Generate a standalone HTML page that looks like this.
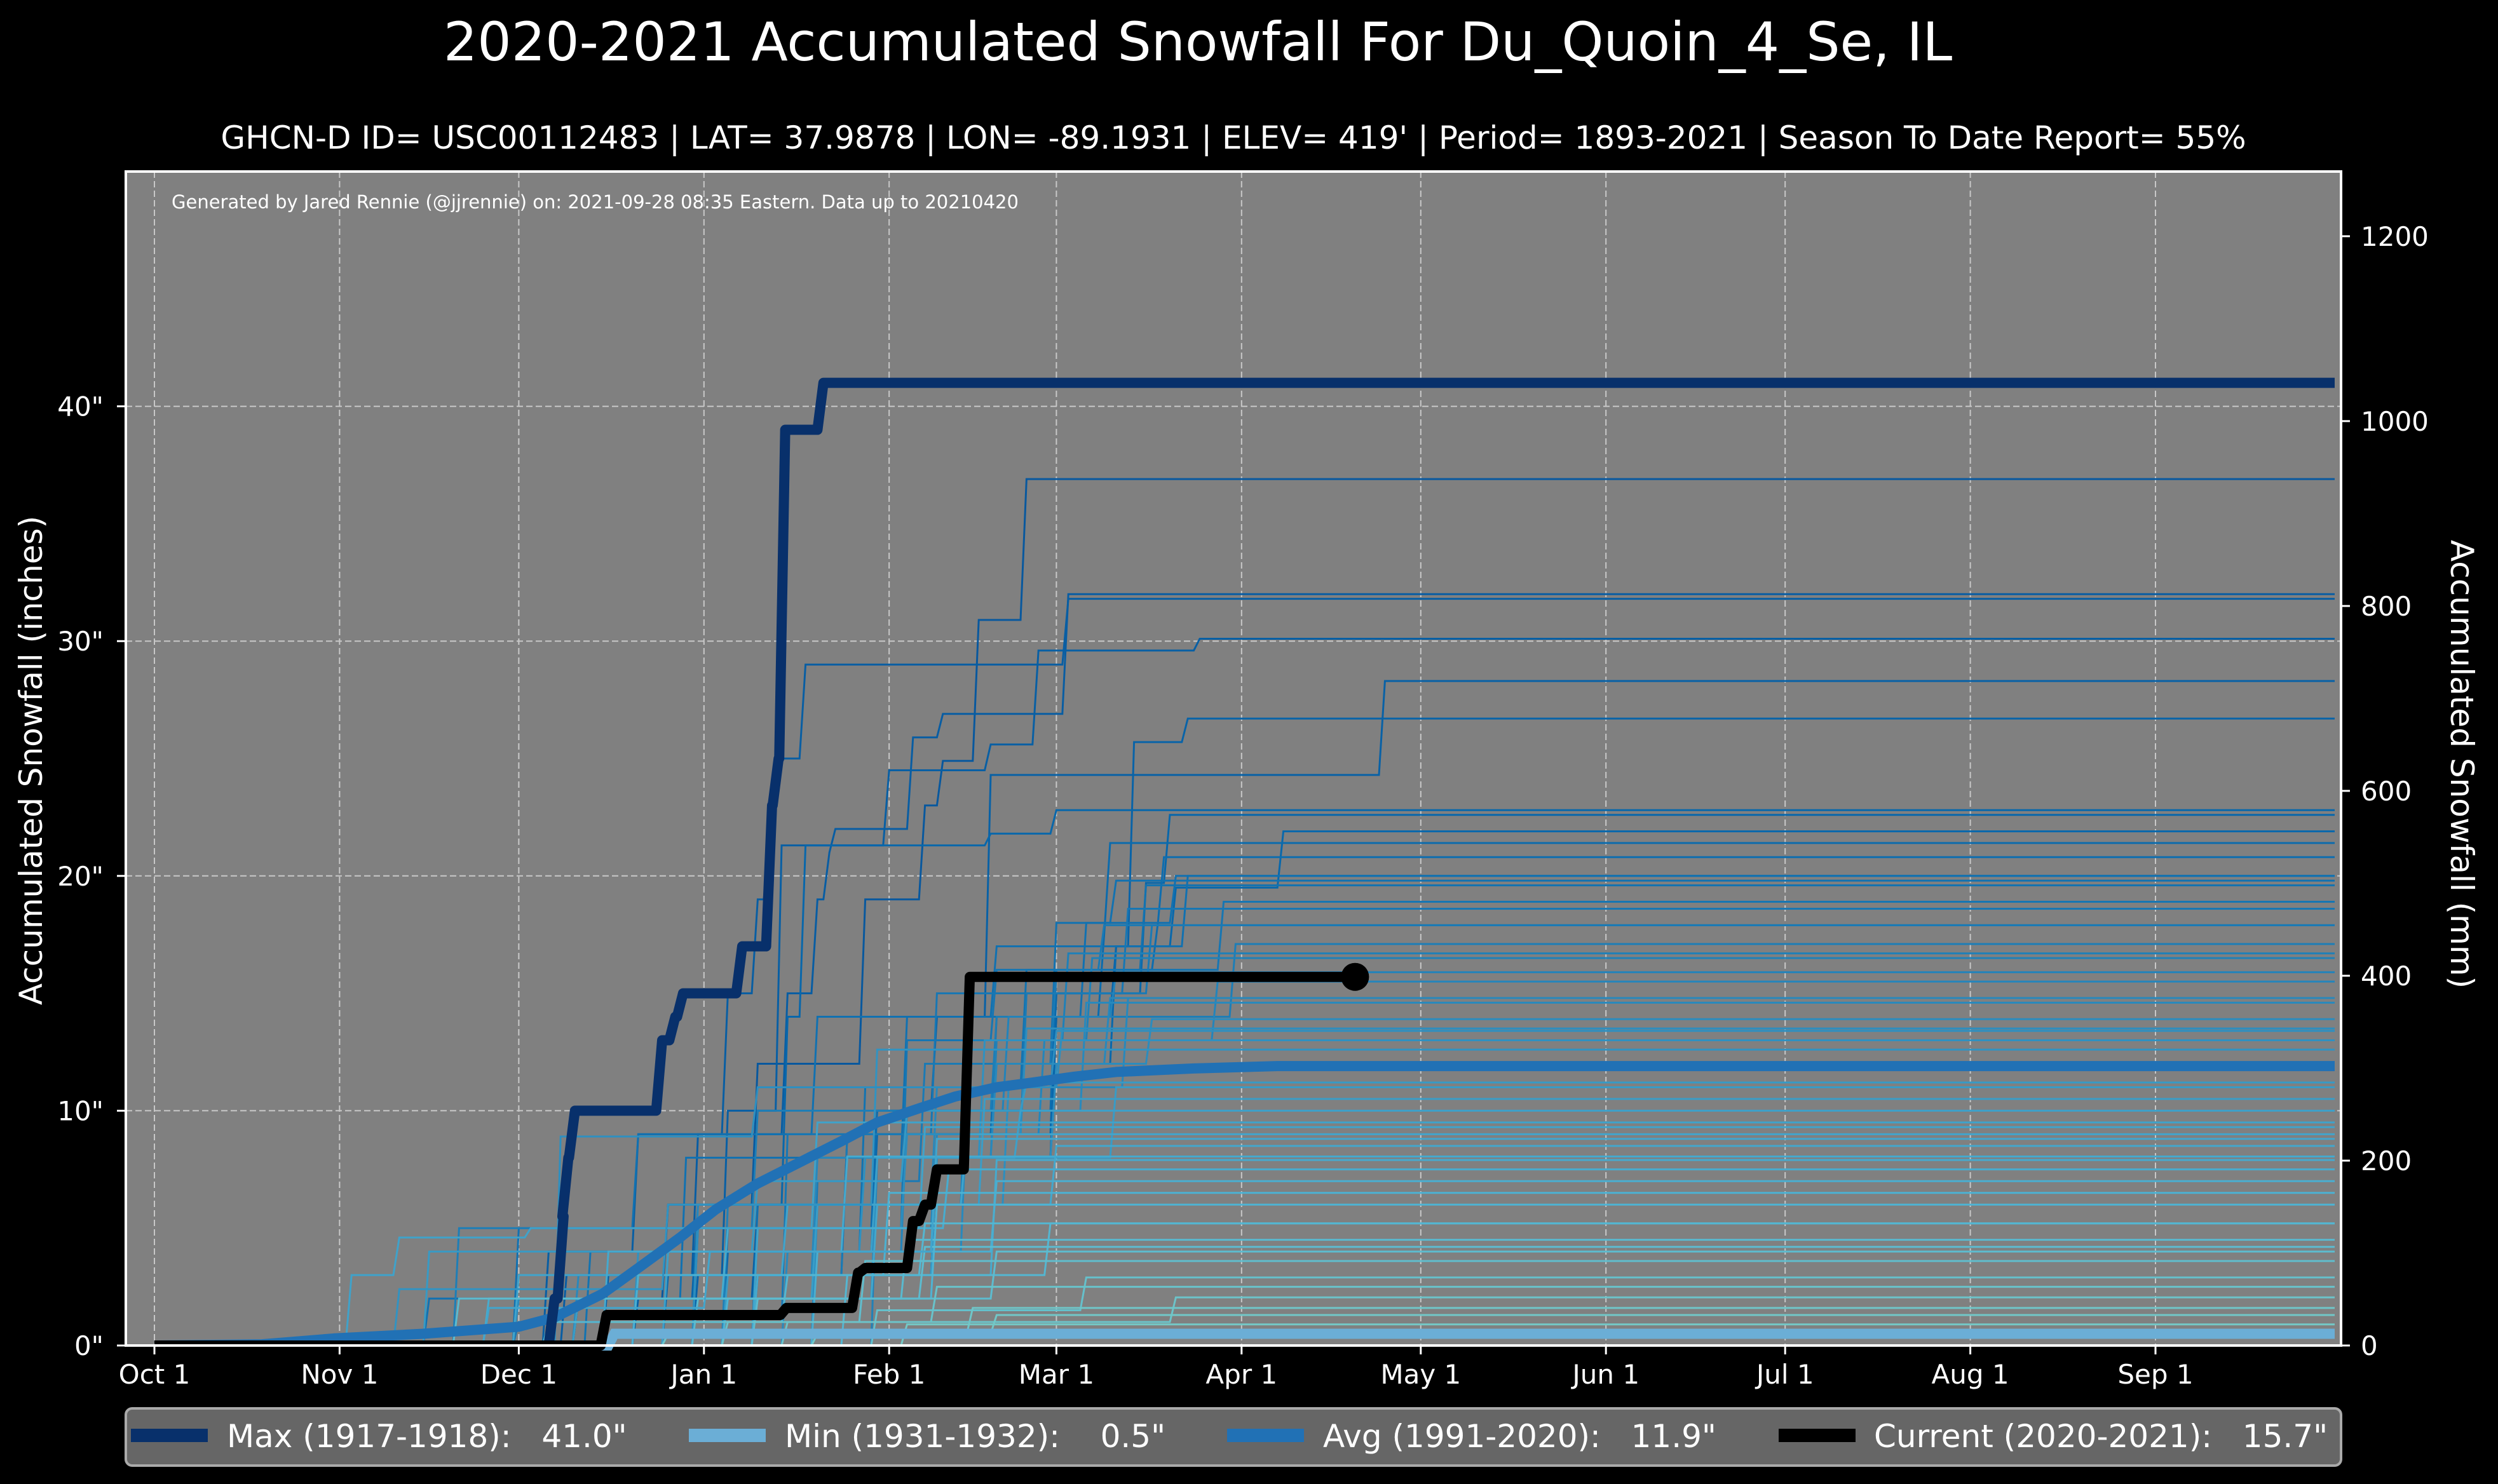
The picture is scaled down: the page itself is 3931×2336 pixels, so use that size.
<!DOCTYPE html>
<html><head><meta charset="utf-8"><style>
html,body{margin:0;padding:0;background:#000;}
svg{display:block;font-family:"DejaVu Sans","Liberation Sans",sans-serif;}
</style></head><body>
<svg id="chart" width="3931" height="2336" viewBox="0 0 3931 2336" xmlns="http://www.w3.org/2000/svg">
<rect x="0" y="0" width="3931" height="2336" fill="#000"/>
<text x="1885" y="95" fill="#fff" font-size="84" text-anchor="middle">2020-2021 Accumulated Snowfall For Du_Quoin_4_Se, IL</text>
<text x="1941" y="234" fill="#fff" font-size="50" text-anchor="middle">GHCN-D ID= USC00112483 | LAT= 37.9878 | LON= -89.1931 | ELEV= 419' | Period= 1893-2021 | Season To Date Report= 55%</text>
<rect x="198" y="270" width="3486" height="1848" fill="#808080"/>
<g id="grid"></g>
<g id="series"></g>
<text x="270" y="328" fill="#fff" font-size="29">Generated by Jared Rennie (@jjrennie) on: 2021-09-28 08:35 Eastern. Data up to 20210420</text>
<rect x="198" y="270" width="3486" height="1848" fill="none" stroke="#fff" stroke-width="4"/>
<g id="axes"></g>
<text x="0" y="0" transform="translate(66,1197) rotate(-90)" fill="#fff" font-size="50" text-anchor="middle">Accumulated Snowfall (inches)</text>
<text x="0" y="0" transform="translate(3857,1203) rotate(90)" fill="#fff" font-size="50" text-anchor="middle">Accumulated Snowfall (mm)</text>
<g>
<rect x="198" y="2217" width="3486" height="90" rx="10" fill="#666" stroke="#aaa" stroke-width="4"/>
<g><rect x="206" y="2249" width="121" height="21" fill="#08306b"/><text x="357" y="2278" fill="#fff" font-size="50" xml:space="preserve">Max (1917-1918):   41.0"</text></g>
<g><rect x="1084" y="2249" width="121" height="21" fill="#6baed6"/><text x="1235" y="2278" fill="#fff" font-size="50" xml:space="preserve">Min (1931-1932):    0.5"</text></g>
<g><rect x="1931" y="2249" width="121" height="21" fill="#2171b5"/><text x="2082" y="2278" fill="#fff" font-size="50" xml:space="preserve">Avg (1991-2020):   11.9"</text></g>
<g><rect x="2799" y="2249" width="121" height="21" fill="#000"/><text x="2949" y="2278" fill="#fff" font-size="50" xml:space="preserve">Current (2020-2021):   15.7"</text></g>
</g>
</svg>
<script>
// ---- data ----
const monthLabels = ["Oct 1","Nov 1","Dec 1","Jan 1","Feb 1","Mar 1","Apr 1","May 1","Jun 1","Jul 1","Aug 1","Sep 1"];
const monthDays = [0,31,61,92,123,151,182,212,243,273,304,335];
const inchTicks = [0,10,20,30,40];
const mmTicks = [0,200,400,600,800,1000,1200];
// historical seasons: [day, cumulative inches, ...] step points
const seasons = [
[70,2,85,6,100,12,118,19,128,23,131,24.9,137,30.9,145,36.9],
[68,3,90,9,105,15,110,19,112,21,113,22,126,25.9,131,26.9,152,32],
[65,4,80,9,95,15,100,19,102,21,103,24,104,25,108,29,152,31.8],
[75,3,95,10,104,21.3,122,24.5,139,25.6,147,29.6,174,30.1],
[80,2,100,6,120,10,130,14,139,24.3,205,28.3],
[90,3,130,8,150,14,160,17,163,25.7,172,26.7],
[70,2,90,6,105,14,108,21.3,139,21.8,150,22.8],
[95,4,120,9,150,15,165,19.7,169,22.6],
[100,3,130,8,150,12,160,17,170,19.5,188,21.9],
[85,3,115,9,140,14,158,17.5,159,21.4],
[90,5,120,10,150,16,167,18,168,20.8],
[60,5,80,9,110,14,140,17,172,20.0],
[45,2,88,8,125,14,155,18,170,20.0],
[100,6,135,12,150,18,160,19.8],
[72,4,118,11,145,16,165,19.6],
[95,5,125,13,140,16,178,18.9],
[60,1,105,9,130,15,162,18.6],
[110,7,128,12,150,16,158,17.9],
[80,3,115,9,145,15,166,17.9],
[50,5,100,10,140,14,180,17.1],
[95,6,135,13,152,16.7],
[120,8,140,13,156,16.5],
[85,4,125,10,142,14,160,15.9],
[100,5,130,9,148,13,177,15.5],
[70,3,110,8,140,12,159,14.8],
[90,6,130,11,162,14.8],
[105,4,135,10,155,14.6],
[60,2,120,8,150,12,166,13.9],
[90,5,125,9,145,13.5],
[110,6,142,11,151,13.5],
[80,4,118,8,138,13.0],
[45,4,100,7,125,10,145,11.2],
[95,3,130,8,160,11.0],
[70,2,110,6,138,10.5],
[85,4,120,8,144,10.0],
[100,5,128,9.3],
[60,3,105,6,135,9.0],
[90,2,120,6,150,8.5],
[75,4,115,8.05],
[100,3,140,7.9],
[55,2,95,5,132,7.5],
[110,4,140,7.0],
[80,3,122,6.5],
[95,2,130,6.0],
[65,1,105,3,128,5.2],
[115,3,149,5.2],
[90,2,125,4.5],
[100,2,140,4.0],
[75,1,118,3.6],
[120,1.5,155,2.9],
[95,1,130,2.5],
[105,1,170,2.05],
[85,0.5,136,1.6],
[110,0.5,140,1.3],
[125,0.9],
[50,2,128,4.2],
[32,3,40,4.6,62,5,110,9.5],
[40,2.4,85,6,120,12.6],
[67,8.9,100,11,150,13.4],
[55,1.6,92,4,130,8.8]
];
const maxSteps = [66,2,67.5,5.5,68.3,8,69.4,10,84,13,86.2,14,87.5,15,97.4,17,102.4,23,103.5,25,104.6,39,111,41];
const minSteps = [76,0.5];
const curSteps = [74.7,1.3,104.8,1.6,116.8,3.1,118,3.3,126,5.3,128,6,130,7.5,135.5,15.7];
const curEndDay = 201;
const avgDays = [0,18,30,45,61,67,75,81,88,94,101,108,115,121,128,134,141,147,154,161,174,188,365];
const avgVals = [0,0.05,0.3,0.5,0.8,1.2,2.2,3.3,4.6,5.8,6.9,7.8,8.7,9.5,10.1,10.6,11.0,11.2,11.45,11.65,11.8,11.9,11.9];

// ---- scales ----
const X0=243, PXD=9.40, Y0=2118, PXI=36.96, LASTDAY=366;
const xs = d => X0 + d*PXD;
const ys = v => Y0 - v*PXI;
const NS="http://www.w3.org/2000/svg";
function mk(tag, attrs, parent){const e=document.createElementNS(NS,tag);for(const k in attrs)e.setAttribute(k,attrs[k]);parent.appendChild(e);return e;}
const grid=document.getElementById('grid'), series=document.getElementById('series'), axes=document.getElementById('axes');

monthDays.forEach((d,i)=>{
  const l=mk('line',{x1:xs(d),x2:xs(d),y1:270,y2:2118,stroke:'#c8c8c8','stroke-width':2,'stroke-dasharray':'10,5'},grid);
  
  
  const t=mk('line',{x1:xs(d),x2:xs(d),y1:2118,y2:2132,stroke:'#fff','stroke-width':3},axes);
  
  
  const tx=mk('text',{x:xs(d),y:2178,fill:'#fff','font-size':42,'text-anchor':'middle'},axes);
  tx.textContent=monthLabels[i];
  
  
});
inchTicks.forEach(v=>{
  if(v>0){const l=mk('line',{x1:198,x2:3684,y1:ys(v),y2:ys(v),stroke:'#c8c8c8','stroke-width':2,'stroke-dasharray':'10,5'},grid);
  
  }
  const t=mk('line',{x1:184,x2:198,y1:ys(v),y2:ys(v),stroke:'#fff','stroke-width':3},axes);
  
  
  const tx=mk('text',{x:163,y:ys(v)+15,fill:'#fff','font-size':42,'text-anchor':'end'},axes);
  tx.textContent=v+'"';
  
  
});
mmTicks.forEach(m=>{
  const y=ys(m/25.4);
  const t=mk('line',{x1:3684,x2:3698,y1:y,y2:y,stroke:'#fff','stroke-width':3},axes);
  
  
  const tx=mk('text',{x:3715,y:y+15,fill:'#fff','font-size':42},axes);
  tx.textContent=m;
  
  
});

function stepPath(steps,endDay){
  let v=0, p='M'+xs(0)+','+ys(0);
  for(let i=0;i<steps.length;i+=2){
    const d=steps[i], nv=steps[i+1];
    p+=' L'+xs(d)+','+ys(v)+' L'+xs(d+1)+','+ys(nv);
    v=nv;
  }
  p+=' L'+xs(endDay)+','+ys(v);
  return p;
}
const cstops=[[0,[123,204,196]],[6,[78,179,211]],[14,[43,140,190]],[22,[8,104,172]],[37,[8,88,158]]];
function colorFor(f){
  for(let i=1;i<cstops.length;i++){
    if(f<=cstops[i][0]){const a=cstops[i-1],b=cstops[i],t=(f-a[0])/(b[0]-a[0]);
      return 'rgb('+a[1].map((c,k)=>Math.round(c+(b[1][k]-c)*t)).join(',')+')';}
  }
  return 'rgb(8,88,158)';
}
seasons.forEach(s=>{
  const f=s[s.length-1];
  const p=mk('path',{d:stepPath(s,LASTDAY-1),fill:'none',stroke:colorFor(f),'stroke-width':3},series);
  
  
});
const minP=mk('path',{d:stepPath(minSteps,LASTDAY-1),fill:'none',stroke:'#6baed6','stroke-width':16},series);


let ap='';
avgDays.forEach((d,i)=>{ap+=(i?' L':'M')+xs(Math.min(d,LASTDAY-1))+','+ys(avgVals[i]);});
const avgP=mk('path',{d:ap,fill:'none',stroke:'#2171b5','stroke-width':16,'stroke-linejoin':'round'},series);


const maxP=mk('path',{d:stepPath(maxSteps,LASTDAY-1),fill:'none',stroke:'#08306b','stroke-width':16,'stroke-linejoin':'round'},series);


const curP=mk('path',{d:stepPath(curSteps,curEndDay),fill:'none',stroke:'#000','stroke-width':16,'stroke-linejoin':'round'},series);


const dot=mk('circle',{cx:xs(curEndDay),cy:ys(curSteps[curSteps.length-1]),r:22,fill:'#000'},series);


</script>
</body></html>
